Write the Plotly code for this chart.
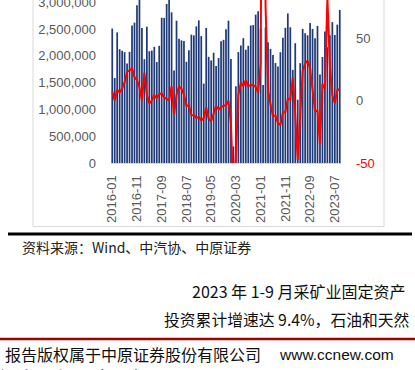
import plotly.graph_objects as go

# ---------------- data ----------------
months = [
    "2016-01","2016-02","2016-03","2016-04","2016-05","2016-06","2016-07","2016-08","2016-09","2016-10","2016-11","2016-12",
    "2017-01","2017-02","2017-03","2017-04","2017-05","2017-06","2017-07","2017-08","2017-09","2017-10","2017-11","2017-12",
    "2018-01","2018-02","2018-03","2018-04","2018-05","2018-06","2018-07","2018-08","2018-09","2018-10","2018-11","2018-12",
    "2019-01","2019-02","2019-03","2019-04","2019-05","2019-06","2019-07","2019-08","2019-09","2019-10","2019-11","2019-12",
    "2020-01","2020-02","2020-03","2020-04","2020-05","2020-06","2020-07","2020-08","2020-09","2020-10","2020-11","2020-12",
    "2021-01","2021-02","2021-03","2021-04","2021-05","2021-06","2021-07","2021-08","2021-09","2021-10","2021-11","2021-12",
    "2022-01","2022-02","2022-03","2022-04","2022-05","2022-06","2022-07","2022-08","2022-09","2022-10","2022-11","2022-12",
    "2023-01","2023-02","2023-03","2023-04","2023-05","2023-06","2023-07","2023-08","2023-09",
]

sales = [
    2506600, 1585900, 2435600, 2122700, 2092500, 2067600, 1853900, 2074400, 2562300, 2619000, 2940000, 3058000,
    2518700, 1935500, 2541100, 2084100, 2096100, 2166600, 1882600, 2185300, 2710000, 2706100, 2967100, 3058700,
    2810600, 1723300, 2653400, 2319600, 2287900, 2273200, 1888400, 2102200, 2394000, 2380600, 2548000, 2661000,
    2366800, 1481400, 2519800, 1980300, 1912700, 2056000, 1807000, 1958000, 2273000, 2297000, 2494000, 2655000,
    1941000, 310000, 1430000, 2070000, 2192000, 2328000, 2113000, 2186000, 2565000, 2573000, 2767000, 2831000,
    2503000, 1455000, 2526000, 2252000, 2128000, 2015000, 1864000, 1799000, 2067000, 2334000, 2521000, 2789000,
    2531000, 1737000, 2234000, 1181000, 1862000, 2502000, 2420000, 2383000, 2611000, 2501000, 2327000, 2556000,
    1649000, 1976000, 2451000, 2159000, 2382000, 2628000, 2387000, 2580000, 2855000,
]

yoy = [
    7.4, 0.2, 8.8, 6.7, 9.8, 14.6, 23.3, 24.2, 26.0, 18.8, 16.6, 10.6,
    0.2, 22.4, 4.6, -2.2, 0.1, 4.5, 1.9, 5.3, 5.8, 2.7, 1.4, 0.1,
    11.6, -11.1, 4.7, 11.5, 9.6, 4.8, -4.0, -3.8, -11.6, -11.7, -13.9, -13.0,
    -15.8, -13.8, -5.2, -14.6, -16.4, -9.6, -4.3, -6.9, -5.2, -4.0, -3.6, -0.1,
    -18.0, -79.1, -43.3, 4.4, 14.5, 11.6, 16.4, 11.6, 12.8, 12.5, 11.1, 6.4,
    29.5, 364.9, 74.9, 8.6, -3.1, -12.4, -11.9, -17.8, -19.6, -9.4, -9.1, 1.7,
    0.9, 18.7, -11.7, -47.6, -12.6, 23.8, 29.7, 32.1, 25.7, 6.9, -7.9, -8.4,
    -35.0, 13.5, 9.7, 82.7, 27.9, 4.8, -2.2, 8.2, 9.5,
]

x_ticks = ["2016-01","2016-11","2017-09","2018-07","2019-05","2020-03","2021-01","2021-11","2022-09","2023-07"]
left_ticks = [0, 500000, 1000000, 1500000, 2000000, 2500000, 3000000]
right_ticks = [-50, 0, 50]
right_tick_text = ["<span style='color:#FF0000'>-50</span>", "0", "50"]

source_text = "资料来源：Wind、中汽协、中原证券"
body_line1 = "2023 年 1-9 月采矿业固定资产"
body_line2 = "投资累计增速达 9.4%，石油和天然"
footer_text = "报告版权属于中原证券股份有限公司"
footer_url = "www.ccnew.com"
footer_line2 = "阅读最后一页各项声明"

# ---------------- layout helpers ----------------
W, H = 415, 370
def px(x):
    return x / W
def py(y):
    return 1 - y / H

tick_font = dict(family="Liberation Sans, Arial, sans-serif", size=13, color="#595959")

fig = go.Figure()
fig.add_trace(go.Bar(x=months, y=sales, marker=dict(color="#1F3A78", line=dict(width=0)),
                     yaxis="y", name="销量"))
fig.add_trace(go.Scatter(x=months, y=yoy, mode="lines", line=dict(color="#FF0000", width=2),
                         yaxis="y2", name="同比"))

fig.update_layout(
    width=W, height=H,
    margin=dict(l=0, r=0, t=0, b=0, pad=0),
    paper_bgcolor="white", plot_bgcolor="white",
    showlegend=False, bargap=0.3, hovermode=False,
    xaxis=dict(domain=[px(111), px(341)], type="category", tickmode="array", automargin=False,
               tickvals=x_ticks, ticktext=x_ticks, tickangle=-90, tickfont=tick_font,
               ticks="", showgrid=False, showline=True, linecolor="#d9d9d9", linewidth=1,
               ticklabelstandoff=6, ticklabeloverflow="allow"),
    yaxis=dict(domain=[py(163), 1], range=[0, 3040000], tickmode="array", tickvals=left_ticks,
               automargin=False, tickformat=",", tickfont=tick_font, showgrid=False,
               zeroline=False, ticks="", ticklabelstandoff=14, ticklabeloverflow="allow"),
    yaxis2=dict(overlaying="y", side="right", range=[-50, 80.8], tickmode="array", automargin=False,
                tickvals=right_ticks, ticktext=right_tick_text, tickfont=tick_font,
                showgrid=False, zeroline=False, ticks="", ticklabelstandoff=14,
                ticklabeloverflow="allow"),
)

shapes = [
    # chart frame
    dict(type="rect", xref="paper", yref="paper", x0=px(33), x1=px(384), y0=py(226.5), y1=py(-5),
         line=dict(color="#d9d9d9", width=1), fillcolor="rgba(0,0,0,0)", layer="below"),
    # black rule
    dict(type="line", xref="paper", yref="paper", x0=px(8), x1=px(412), y0=py(234), y1=py(234),
         line=dict(color="#000000", width=3)),
    # red footer rule
    dict(type="line", xref="paper", yref="paper", x0=px(-2), x1=px(417), y0=py(339), y1=py(339),
         line=dict(color="#A00000", width=2.5)),
]
fig.update_layout(shapes=shapes)

cjk = "Noto Sans CJK SC, sans-serif"
annots = [
    dict(text=source_text, x=px(20), y=py(247), font=dict(family=cjk, size=14, color="#222222")),
    dict(text=body_line1, x=px(190), y=py(291), font=dict(family=cjk, size=16, color="#111111")),
    dict(text=body_line2, x=px(162), y=py(319), font=dict(family=cjk, size=15.8, color="#111111")),
    dict(text=footer_text, x=px(3), y=py(354), font=dict(family=cjk, size=16, color="#111111")),
    dict(text=footer_url, x=px(277), y=py(354), font=dict(family="Liberation Sans, Arial, sans-serif", size=15.5, color="#111111")),
    dict(text=footer_line2, x=px(-2), y=py(376), font=dict(family=cjk, size=16, color="#111111")),
]
for a in annots:
    fig.add_annotation(xref="paper", yref="paper", xanchor="left", yanchor="middle",
                       showarrow=False, **a)

fig.write_html("out.html", config={"displayModeBar": False, "staticPlot": True},
               post_script="document.body.style.margin='0';document.body.style.padding='0';"
                           "document.documentElement.style.overflow='hidden';")
